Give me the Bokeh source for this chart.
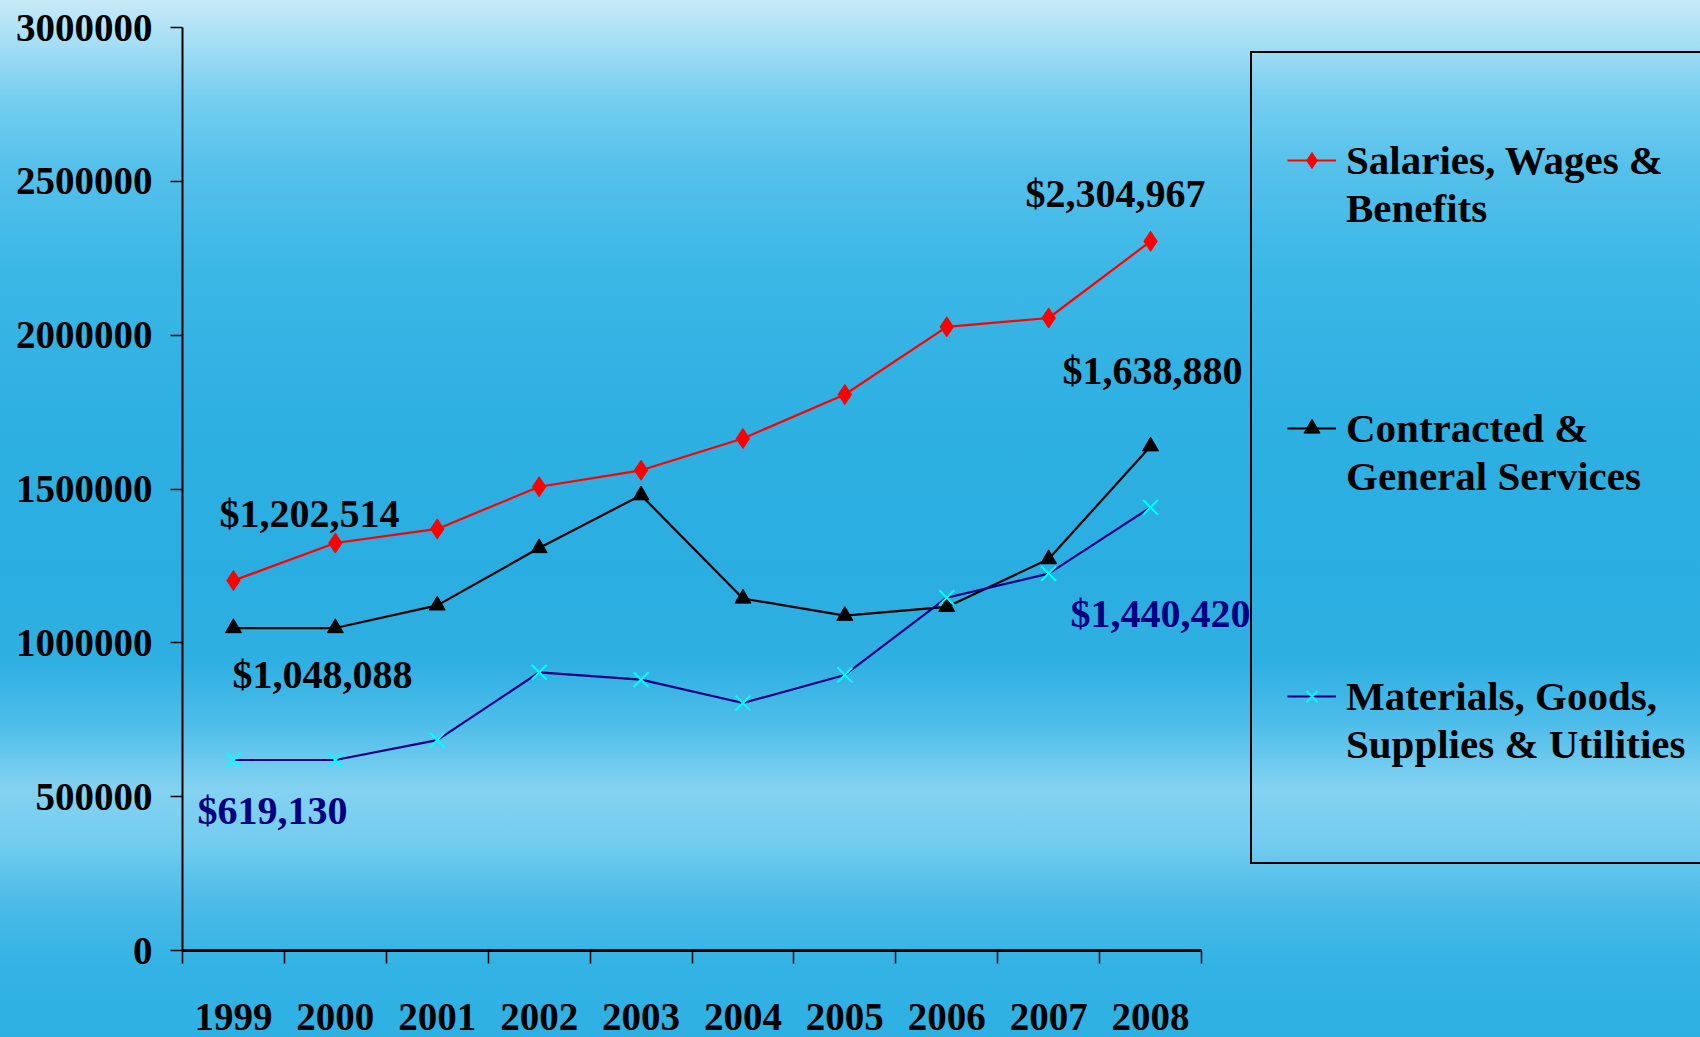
from bokeh.plotting import figure
from bokeh.models import Legend, LegendItem, FixedTicker, Label, BasicTickFormatter, Range1d
from bokeh.embed import file_html
from bokeh.resources import INLINE

# ---- data ----
years = ["1999", "2000", "2001", "2002", "2003", "2004", "2005", "2006", "2007", "2008"]
salaries = [1202514, 1324500, 1370300, 1507200, 1560800, 1664100, 1807200, 2027200, 2055800, 2304967]
contracted = [1048088, 1048088, 1121700, 1308200, 1479900, 1144100, 1088200, 1116800, 1272200, 1638880]
materials = [619130, 619130, 683900, 903900, 880500, 804400, 895500, 1146700, 1225100, 1440420]
series_names = ["Salaries, Wages &\nBenefits",
                "Contracted &\nGeneral Services",
                "Materials, Goods,\nSupplies & Utilities"]
y_ticks = [0, 500000, 1000000, 1500000, 2000000, 2500000, 3000000]

FONT = "Liberation Serif"

# ---- layout constants (pixels) ----
W, H = 1700, 1037
LEFT, TOP, BOTTOM = 182, 27, 87
AXIS_W = 1019            # width of the part of the frame holding the years
FRAME_W = W - LEFT
LEG_LEFT, LEG_BOTTOM = 1250, 864

n = len(years)
x = [i + 0.5 for i in range(n)]

p = figure(width=W, height=H, output_backend="svg", toolbar_location=None,
           x_range=Range1d(0, n * FRAME_W / AXIS_W), y_range=Range1d(0, y_ticks[-1]),
           min_border_left=LEFT, min_border_right=0, min_border_top=TOP, min_border_bottom=BOTTOM)

p.styles = {"background": "linear-gradient(to bottom, #c6eaf8 0%, #a6dff5 4%, #78cff0 9%, #55c1eb 16%, #3bb7e6 26%, #2eb0e2 40%, #2aade1 55%, #2fb0e2 64%, #4fbeea 70%, #84d2f1 76%, #74cdef 81%, #4bbbe8 87%, #33b3e4 93%, #2eb0e3 100%)"}
p.background_fill_alpha = 0
p.border_fill_alpha = 0
p.outline_line_color = None
p.xgrid.visible = False
p.ygrid.visible = False

# x axis
xa = p.xaxis[0]
xa.bounds = (0, n)
xa.ticker = FixedTicker(ticks=x, minor_ticks=list(range(n + 1)))
xa.major_label_overrides = {xi: yr for xi, yr in zip(x, years)}
xa.major_tick_in = 0
xa.major_tick_out = 0
xa.minor_tick_in = 0
xa.minor_tick_out = 13
xa.minor_tick_line_color = "black"
xa.minor_tick_line_width = 1.5
xa.axis_line_width = 3
xa.axis_line_color = "black"
xa.major_label_text_font = FONT
xa.major_label_text_font_style = "bold"
xa.major_label_text_font_size = "39px"
xa.major_label_text_color = "black"
xa.major_label_standoff = 40

# y axis
ya = p.yaxis[0]
ya.ticker = FixedTicker(ticks=y_ticks)
ya.formatter = BasicTickFormatter(use_scientific=False)
ya.major_tick_in = 0
ya.major_tick_out = 12
ya.major_tick_line_width = 1.5
ya.major_tick_line_color = "black"
ya.minor_tick_out = 0
ya.minor_tick_in = 0
ya.axis_line_width = 2
ya.axis_line_color = "black"
ya.major_label_text_font = FONT
ya.major_label_text_font_style = "bold"
ya.major_label_text_font_size = "39px"
ya.major_label_text_color = "black"
ya.major_label_standoff = 18

# series
r1 = p.line(x, salaries, line_color="red", line_width=2.2)
m1 = p.scatter(x, salaries, marker="diamond", size=20, fill_color="red", line_color="red")
r2 = p.line(x, contracted, line_color="black", line_width=2.2)
m2 = p.scatter(x, contracted, marker="triangle", size=16, fill_color="black", line_color="black")
r3 = p.line(x, materials, line_color="#000080", line_width=2.2)
m3 = p.scatter(x, materials, marker="x", size=21, line_color="cyan", line_width=2)

# a leading blank line keeps each legend glyph level with the first text line
legend = Legend(items=[LegendItem(label=" \n" + name, renderers=[r, m])
                       for name, r, m in zip(series_names, [r1, r2, r3], [m1, m2, m3])],
                location=(LEG_LEFT - LEFT, (H - BOTTOM) - LEG_BOTTOM))
legend.border_line_color = "black"
legend.border_line_alpha = 1
legend.border_line_width = 2
legend.background_fill_alpha = 0
legend.label_text_font = FONT
legend.label_text_font_style = "bold"
legend.label_text_font_size = "41px"
legend.label_text_color = "black"
legend.glyph_width = 49
legend.glyph_height = 40
legend.label_standoff = 10
legend.padding = 35
legend.spacing = 124
legend.label_width = 340
legend.margin = 0
legend.title = " "
legend.title_location = "below"
legend.title_text_font_size = "10px"
legend.title_standoff = 48
p.add_layout(legend)

# data labels
labels = [
    (x[-1], salaries[-1], "$2,304,967", "black", -35, 48),
    (x[0], salaries[0], "$1,202,514", "black", 76, 67),
    (x[-1], contracted[-1], "$1,638,880", "black", 2, 76),
    (x[0], contracted[0], "$1,048,088", "black", 89, -46),
    (x[-1], materials[-1], "$1,440,420", "#000080", 10, -106),
    (x[0], materials[0], "$619,130", "#000080", 39, -50),
]
for lx, ly, txt, col, dx, dy in labels:
    p.add_layout(Label(x=lx, y=ly, text=txt, x_offset=dx, y_offset=dy,
                       text_align="center", text_baseline="middle",
                       text_font=FONT, text_font_style="bold", text_font_size="40px",
                       text_color=col))

open("out.html", "w").write(file_html(p, INLINE))
